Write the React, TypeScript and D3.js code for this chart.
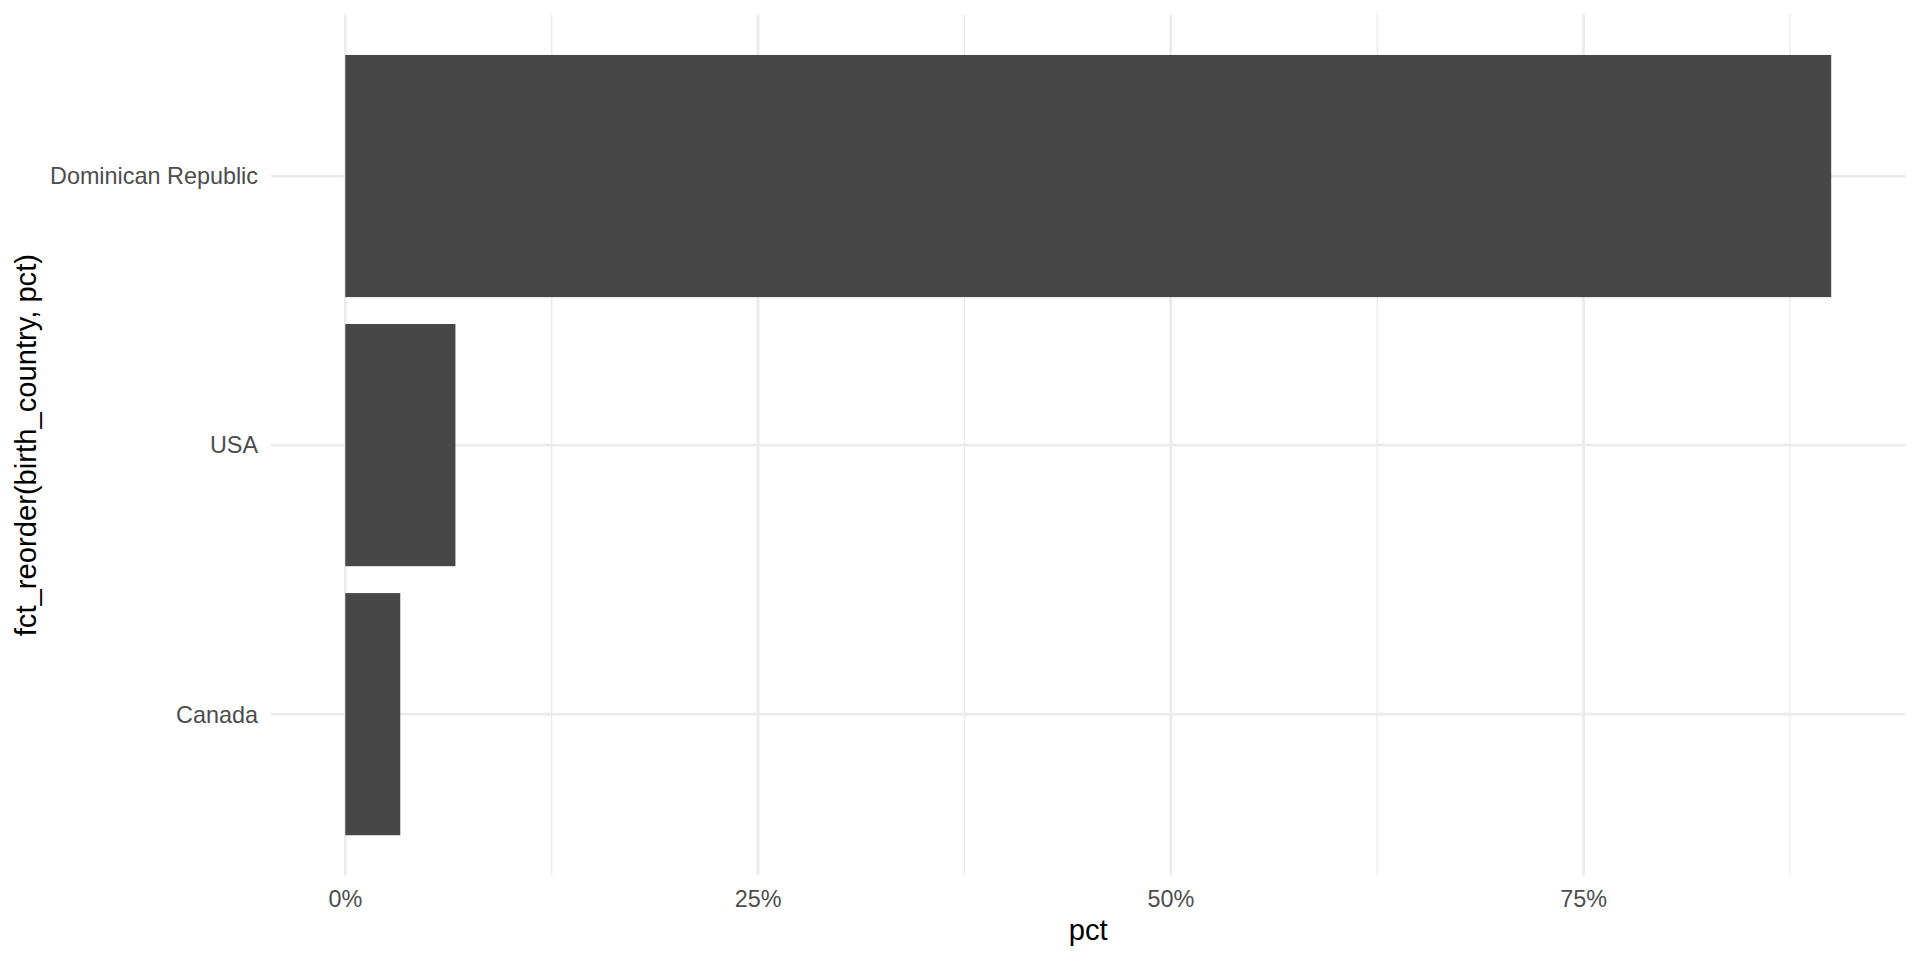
import React from "react";
import * as d3 from "d3";

const countries = ["Canada", "USA", "Dominican Republic"];
const pctValues = [0.0333, 0.0667, 0.9];
const xTickValues = [0, 0.25, 0.5, 0.75];
const xMinorValues = [0.125, 0.375, 0.625, 0.875];

const W = 1920;
const H = 960;
const panel = { left: 271, right: 1905.5, top: 14.6, bottom: 875.6 };
const FONT = "'Liberation Sans', Arial, Helvetica, sans-serif";

export default function App() {
  const maxV = d3.max(pctValues) as number;
  const pad = maxV * 0.05;
  const x = d3.scaleLinear().domain([-pad, maxV + pad]).range([panel.left, panel.right]);
  const n = countries.length;
  const y = d3.scaleLinear().domain([0.4, n + 0.6]).range([panel.bottom, panel.top]);
  const fmt = d3.format(".0%");
  const bw = Math.abs(y(0.9) - y(0));
  const tickFs = 23.4;
  const titleFs = 29.2;

  return (
    <svg
      width={W}
      height={H}
      style={{ position: "fixed", left: 0, top: 0, background: "#fff" }}
      xmlns="http://www.w3.org/2000/svg"
    >
      <rect x={0} y={0} width={W} height={H} fill="#fff" />
      {xMinorValues.map((v) => (
        <line key={"mn" + v} x1={x(v)} x2={x(v)} y1={panel.top} y2={panel.bottom} stroke="#EBEBEB" strokeWidth={1.35} />
      ))}
      {xTickValues.map((v) => (
        <line key={"mj" + v} x1={x(v)} x2={x(v)} y1={panel.top} y2={panel.bottom} stroke="#EBEBEB" strokeWidth={2.7} />
      ))}
      {countries.map((c, i) => (
        <line key={"yg" + c} x1={panel.left} x2={panel.right} y1={y(i + 1)} y2={y(i + 1)} stroke="#EBEBEB" strokeWidth={2.7} />
      ))}
      {countries.map((c, i) => (
        <rect
          key={"b" + c}
          x={x(0)}
          y={y(i + 1) - bw / 2}
          width={x(pctValues[i]) - x(0)}
          height={bw}
          fill="#474747"
        />
      ))}
      {countries.map((c, i) => (
        <text
          key={"yl" + c}
          x={258}
          y={y(i + 1) + tickFs * 0.358}
          textAnchor="end"
          fontFamily={FONT}
          fontSize={tickFs}
          fill="#4D4D4D"
        >
          {c}
        </text>
      ))}
      {xTickValues.map((v) => (
        <text
          key={"xl" + v}
          x={x(v)}
          y={906.5}
          textAnchor="middle"
          fontFamily={FONT}
          fontSize={tickFs}
          fill="#4D4D4D"
        >
          {fmt(v)}
        </text>
      ))}
      <text
        x={(panel.left + panel.right) / 2}
        y={940}
        textAnchor="middle"
        fontFamily={FONT}
        fontSize={titleFs}
        fill="#000"
      >
        pct
      </text>
      <text
        transform={`translate(35.5, ${(panel.top + panel.bottom) / 2}) rotate(-90)`}
        textAnchor="middle"
        fontFamily={FONT}
        fontSize={titleFs}
        fill="#000"
      >
        fct_reorder(birth_country, pct)
      </text>
    </svg>
  );
}
